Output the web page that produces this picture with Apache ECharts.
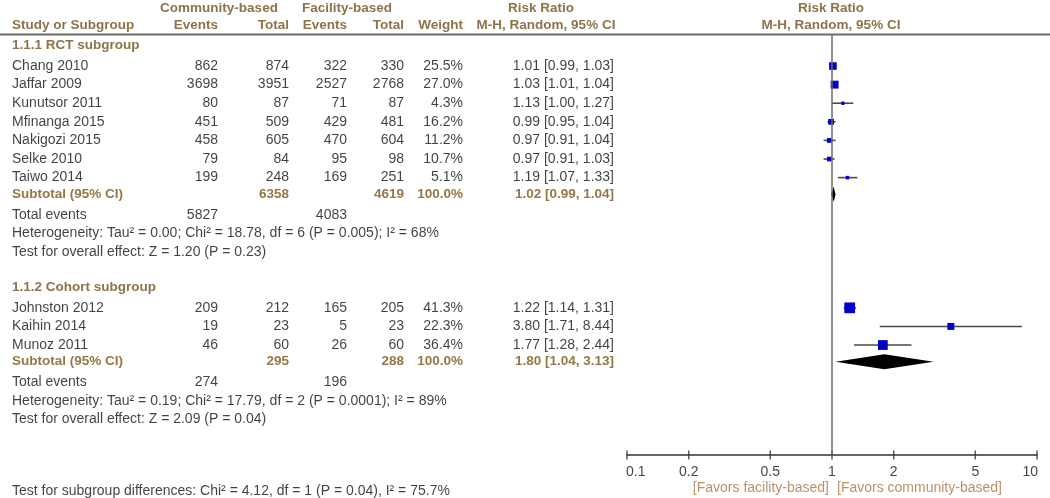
<!DOCTYPE html>
<html><head><meta charset="utf-8">
<script src="https://cdn.jsdelivr.net/npm/echarts@6/dist/echarts.min.js"></script>
<style>html,body{margin:0;padding:0;background:#fff}#c{width:1050px;height:498px}</style>
</head><body><div id="c"></div>
<script>
// ---------------- DATA ----------------
const group1Title = '1.1.1 RCT subgroup';
const studies1   = ['Chang 2010','Jaffar 2009','Kunutsor 2011','Mfinanga 2015','Nakigozi 2015','Selke 2010','Taiwo 2014'];
const commEvents1 = [862, 3698, 80, 451, 458, 79, 199];
const commTotal1  = [874, 3951, 87, 509, 605, 84, 248];
const facEvents1  = [322, 2527, 71, 429, 470, 95, 169];
const facTotal1   = [330, 2768, 87, 481, 604, 98, 251];
const weight1     = [25.5, 27.0, 4.3, 16.2, 11.2, 10.7, 5.1];
const rr1         = [1.01, 1.03, 1.13, 0.99, 0.97, 0.97, 1.19];
const lo1         = [0.99, 1.01, 1.00, 0.95, 0.91, 0.91, 1.07];
const hi1         = [1.03, 1.04, 1.27, 1.04, 1.04, 1.03, 1.33];
const subtotal1   = {commTotal: 6358, facTotal: 4619, weight: 100.0, rr: 1.02, lo: 0.99, hi: 1.04, commEvents: 5827, facEvents: 4083};
const hetero1 = 'Heterogeneity: Tau\u00b2 = 0.00; Chi\u00b2 = 18.78, df = 6 (P = 0.005); I\u00b2 = 68%';
const overall1 = 'Test for overall effect: Z = 1.20 (P = 0.23)';

const group2Title = '1.1.2 Cohort subgroup';
const studies2    = ['Johnston 2012','Kaihin 2014','Munoz 2011'];
const commEvents2 = [209, 19, 46];
const commTotal2  = [212, 23, 60];
const facEvents2  = [165, 5, 26];
const facTotal2   = [205, 23, 60];
const weight2     = [41.3, 22.3, 36.4];
const rr2         = [1.22, 3.80, 1.77];
const lo2         = [1.14, 1.71, 1.28];
const hi2         = [1.31, 8.44, 2.44];
const subtotal2   = {commTotal: 295, facTotal: 288, weight: 100.0, rr: 1.80, lo: 1.04, hi: 3.13, commEvents: 274, facEvents: 196};
const hetero2 = 'Heterogeneity: Tau\u00b2 = 0.19; Chi\u00b2 = 17.79, df = 2 (P = 0.0001); I\u00b2 = 89%';
const overall2 = 'Test for overall effect: Z = 2.09 (P = 0.04)';

const subgroupDiff = 'Test for subgroup differences: Chi\u00b2 = 4.12, df = 1 (P = 0.04), I\u00b2 = 75.7%';
const tickValues = [0.1, 0.2, 0.5, 1, 2, 5, 10];
const favorsLeft = '[Favors facility-based]';
const favorsRight = '[Favors community-based]';

// ---------------- LAYOUT ----------------
const W = 1050, H = 498, ROW_PX = 18.6, OFF = 0.45, AXIS_PX = 455;
const TABLE_MAX = H / ROW_PX - OFF;
const FOREST_MAX = AXIS_PX / ROW_PX - OFF;
const COL = {study: 12, cEv: 218, cTot: 289, fEv: 347, fTot: 404, wt: 463, ci: 614,
             commHead: 219, facHead: 347, rrHead: 541, mhHead: 546, plotHead: 831, favL: 829, favR: 837};
const ROW_H1 = 0, ROW_H2 = 0.9, ROW_RULE = 1.4;
const G1 = 2, G2 = 15, FAVORS_ROW = 25.8, DIFF_ROW = 25.95;
const FONT = "'Liberation Sans', Arial, sans-serif";
const C_TEXT = '#111111', C_HEAD = '#6f501c', C_SUB = '#7a5516', C_FAV = '#a9773f';
const FS = 14, FS_B = 13.5;

// ---------------- BUILD ----------------
const texts = [];
function txt(x, row, text, align, opts) {
  opts = opts || {};
  texts.push({
    value: [x, row],
    label: {
      formatter: String(text).replace(/\{/g, '(').replace(/\}/g, ')'),
      align: align, verticalAlign: 'middle',
      color: opts.color || C_TEXT,
      fontWeight: opts.bold ? 'bold' : 'normal',
      fontSize: opts.bold ? FS_B : FS, fontFamily: FONT
    }
  });
}
const head = {color: C_HEAD, bold: true};
txt(COL.commHead, ROW_H1, 'Community-based', 'center', head);
txt(COL.facHead, ROW_H1, 'Facility-based', 'center', head);
txt(COL.rrHead, ROW_H1, 'Risk Ratio', 'center', head);
txt(COL.plotHead, ROW_H1, 'Risk Ratio', 'center', head);
txt(COL.study, ROW_H2, 'Study or Subgroup', 'left', head);
txt(COL.cEv, ROW_H2, 'Events', 'right', head);
txt(COL.cTot, ROW_H2, 'Total', 'right', head);
txt(COL.fEv, ROW_H2, 'Events', 'right', head);
txt(COL.fTot, ROW_H2, 'Total', 'right', head);
txt(COL.wt, ROW_H2, 'Weight', 'right', head);
txt(COL.mhHead, ROW_H2, 'M-H, Random, 95% CI', 'center', head);
txt(COL.plotHead, ROW_H2, 'M-H, Random, 95% CI', 'center', head);

const studyPts = [], diamonds = [];
const ci = (r, l, h) => r.toFixed(2) + ' [' + l.toFixed(2) + ', ' + h.toFixed(2) + ']';
function group(start, title, names, ce, ct, fe, ft, w, rr, lo, hi, sub, het, ov) {
  txt(COL.study, start, title, 'left', head);
  names.forEach((n, i) => {
    const r = start + 1.1 + i;
    txt(COL.study, r, n, 'left');
    txt(COL.cEv, r, ce[i], 'right');
    txt(COL.cTot, r, ct[i], 'right');
    txt(COL.fEv, r, fe[i], 'right');
    txt(COL.fTot, r, ft[i], 'right');
    txt(COL.wt, r, w[i].toFixed(1) + '%', 'right');
    txt(COL.ci, r, ci(rr[i], lo[i], hi[i]), 'right');
    studyPts.push([rr[i], r, lo[i], hi[i], w[i]]);
  });
  const n = names.length;
  const rs = start + 1 + n;
  const sb = {color: C_SUB, bold: true};
  txt(COL.study, rs, 'Subtotal (95% CI)', 'left', sb);
  txt(COL.cTot, rs, sub.commTotal, 'right', sb);
  txt(COL.fTot, rs, sub.facTotal, 'right', sb);
  txt(COL.wt, rs, sub.weight.toFixed(1) + '%', 'right', sb);
  txt(COL.ci, rs, ci(sub.rr, sub.lo, sub.hi), 'right', sb);
  diamonds.push([sub.rr, rs, sub.lo, sub.hi]);
  txt(COL.study, start + 2.1 + n, 'Total events', 'left');
  txt(COL.cEv, start + 2.1 + n, sub.commEvents, 'right');
  txt(COL.fEv, start + 2.1 + n, sub.facEvents, 'right');
  txt(COL.study, start + 3.1 + n, het, 'left');
  txt(COL.study, start + 4.1 + n, ov, 'left');
}
group(G1, group1Title, studies1, commEvents1, commTotal1, facEvents1, facTotal1, weight1, rr1, lo1, hi1, subtotal1, hetero1, overall1);
group(G2, group2Title, studies2, commEvents2, commTotal2, facEvents2, facTotal2, weight2, rr2, lo2, hi2, subtotal2, hetero2, overall2);
txt(COL.study, DIFF_ROW, subgroupDiff, 'left');
txt(COL.favL, FAVORS_ROW, favorsLeft, 'right', {color: C_FAV});
txt(COL.favR, FAVORS_ROW, favorsRight, 'left', {color: C_FAV});

const ticks = tickValues.map((v, i) => ({
  value: [v, FOREST_MAX],
  label: {align: i === 0 ? 'left' : (i === tickValues.length - 1 ? 'right' : 'center'),
          offset: [i === 0 ? -1 : (i === tickValues.length - 1 ? 1 : 0), 0]}
}));

const chart = echarts.init(document.getElementById('c'), null, {renderer: 'canvas'});
chart.setOption({
  animation: false,
  backgroundColor: '#ffffff',
  grid: [
    {left: 0, right: 0, top: 0, bottom: 0},
    {left: 627, right: 13, top: 0, height: AXIS_PX}
  ],
  xAxis: [
    {gridIndex: 0, type: 'value', min: 0, max: W, show: false},
    {gridIndex: 1, type: 'log', logBase: 10, min: 0.1, max: 10,
     axisLine: {show: true, onZero: false, lineStyle: {color: '#333333', width: 1.5}},
     axisTick: {show: false}, axisLabel: {show: false}, splitLine: {show: false}}
  ],
  yAxis: [
    {gridIndex: 0, type: 'value', min: -OFF, max: TABLE_MAX, inverse: true, show: false},
    {gridIndex: 1, type: 'value', min: -OFF, max: FOREST_MAX, inverse: true, show: false}
  ],
  series: [
    { type: 'line', xAxisIndex: 0, yAxisIndex: 0, data: [[0, ROW_RULE], [W, ROW_RULE]],
      symbol: 'none', silent: true, lineStyle: {color: '#6a6a6a', width: 2} },
    { type: 'line', xAxisIndex: 1, yAxisIndex: 1, data: [[1, ROW_RULE], [1, FOREST_MAX]],
      symbol: 'none', silent: true, lineStyle: {color: '#6b6b6b', width: 1.5} },
    { type: 'scatter', xAxisIndex: 0, yAxisIndex: 0, data: texts, symbolSize: 0.1,
      itemStyle: {color: 'rgba(0,0,0,0)'}, silent: true,
      label: {show: true, position: 'inside'} },
    { type: 'custom', xAxisIndex: 1, yAxisIndex: 1, data: studyPts, silent: true,
      renderItem: function (params, api) {
        const y = api.value(1);
        const p = api.coord([api.value(0), y]);
        const pl = api.coord([api.value(2), y]);
        const ph = api.coord([api.value(3), y]);
        const s = 2.5 + 0.2 * api.value(4);
        return {type: 'group', children: [
          {type: 'line', shape: {x1: pl[0], y1: p[1], x2: ph[0], y2: p[1]}, style: {stroke: '#4a4a4a', lineWidth: 1.6}},
          {type: 'rect', shape: {x: p[0] - s / 2, y: p[1] - s / 2, width: s, height: s}, style: {fill: '#0000c8'}}
        ]};
      } },
    { type: 'custom', xAxisIndex: 1, yAxisIndex: 1, data: diamonds, silent: true,
      renderItem: function (params, api) {
        const y = api.value(1);
        const p = api.coord([api.value(0), y]);
        const pl = api.coord([api.value(2), y]);
        const ph = api.coord([api.value(3), y]);
        const hh = 7.5;
        return {type: 'polygon', shape: {points: [[pl[0], p[1]], [p[0], p[1] - hh], [ph[0], p[1]], [p[0], p[1] + hh]]},
                style: {fill: '#000000'}};
      } },
    { type: 'scatter', xAxisIndex: 1, yAxisIndex: 1, data: ticks, silent: true, clip: false,
      symbol: 'rect', symbolSize: [1.5, 9], itemStyle: {color: '#333333'},
      label: {show: true, position: 'bottom', distance: 6, color: C_TEXT, fontSize: FS, fontFamily: FONT,
              formatter: p => String(p.value[0])} }
  ]
});
</script></body></html>
